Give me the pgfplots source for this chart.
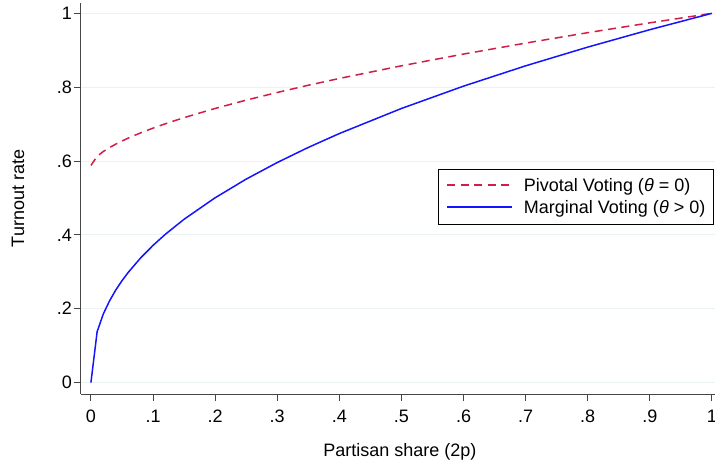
\documentclass[border=0pt]{standalone}
\usepackage{fontspec}
\setmainfont{Liberation Sans}
\usepackage{pgfplots}
\pgfplotsset{compat=1.18}

\definecolor{pivred}{RGB}{208,30,72}
\definecolor{margblue}{RGB}{20,20,255}
\definecolor{gridc}{RGB}{234,242,243}
\definecolor{axisc}{RGB}{70,70,70}

\begin{document}
\fontsize{18bp}{21bp}\selectfont
\begin{tikzpicture}
\path[use as bounding box] (-81bp,-66bp) rectangle (634bp,394bp);
\begin{axis}[
    at={(0,0)}, anchor=south west,
    scale only axis,
    width=634bp, height=391bp,
    xmin=-0.016, xmax=1.005,
    ymin=-0.031, ymax=1.028,
    axis x line*=bottom, axis y line*=left,
    axis line style={axisc, line width=1bp},
    xtick={0,0.1,0.2,0.3,0.4,0.5,0.6,0.7,0.8,0.9,1},
    xticklabels={0,.1,.2,.3,.4,.5,.6,.7,.8,.9,1},
    ytick={0,0.2,0.4,0.6,0.8,1},
    yticklabels={0,.2,.4,.6,.8,1},
    tick align=outside,
    major tick length=7bp,
    tick style={axisc, line width=1bp},
    ymajorgrids,
    grid style={gridc, line width=1bp},
    xticklabel style={anchor=north, inner sep=0pt, yshift=-9bp},
    yticklabel style={anchor=east, inner sep=0pt, xshift=-2bp},
    xlabel={Partisan share (2p)},
    ylabel={Turnout rate},
    xlabel style={at={(rel axis cs:0.503,-0.1483)}, anchor=center},
    ylabel style={at={(rel axis cs:-0.0994,0.5)}, anchor=center},
    legend cell align=left,
    legend image code/.code={\path (0bp,0bp); \draw[#1] (0bp,6.5bp) -- (65bp,6.5bp);},
    legend style={at={(rel axis cs:0.563,0.5747)}, anchor=north west,
        draw=black, line width=1bp, inner xsep=8bp, inner ysep=8.5bp,
        row sep=6.5bp, column sep=11bp,
        nodes={inner sep=0pt, anchor=base west}},
]
% pivotal voting (theta = 0)
\addplot[pivred, line width=1.5bp, dash pattern=on 8bp off 5.5bp] coordinates {
    (0,0.588) (0.01,0.6128) (0.02,0.6259) (0.03,0.6365) (0.04,0.6458)
    (0.05,0.6542) (0.06,0.6620) (0.08,0.6763) (0.1,0.6891) (0.12,0.7010)
    (0.15,0.7175) (0.2,0.7424) (0.25,0.7649) (0.3,0.7857) (0.35,0.8052)
    (0.4,0.8236) (0.5,0.8579) (0.6,0.8897) (0.7,0.9194) (0.8,0.9476)
    (0.9,0.9743) (1,1)
};
\addlegendentry{Pivotal Voting (\textit{θ} = 0)}
% marginal voting (theta > 0)
\addplot[margblue, line width=1.5bp] coordinates {
    (0,0) (0.01,0.1380) (0.02,0.1860) (0.03,0.2214) (0.04,0.2506)
    (0.05,0.2758) (0.06,0.2983) (0.08,0.3375) (0.1,0.3715) (0.12,0.4018)
    (0.15,0.4423) (0.2,0.5005) (0.25,0.5510) (0.3,0.5959) (0.35,0.6368)
    (0.4,0.6744) (0.5,0.7423) (0.6,0.8028) (0.7,0.8578) (0.8,0.9085)
    (0.9,0.9557) (1,1)
};
\addlegendentry{Marginal Voting (\textit{θ} > 0)}
\end{axis}
\end{tikzpicture}
\end{document}
